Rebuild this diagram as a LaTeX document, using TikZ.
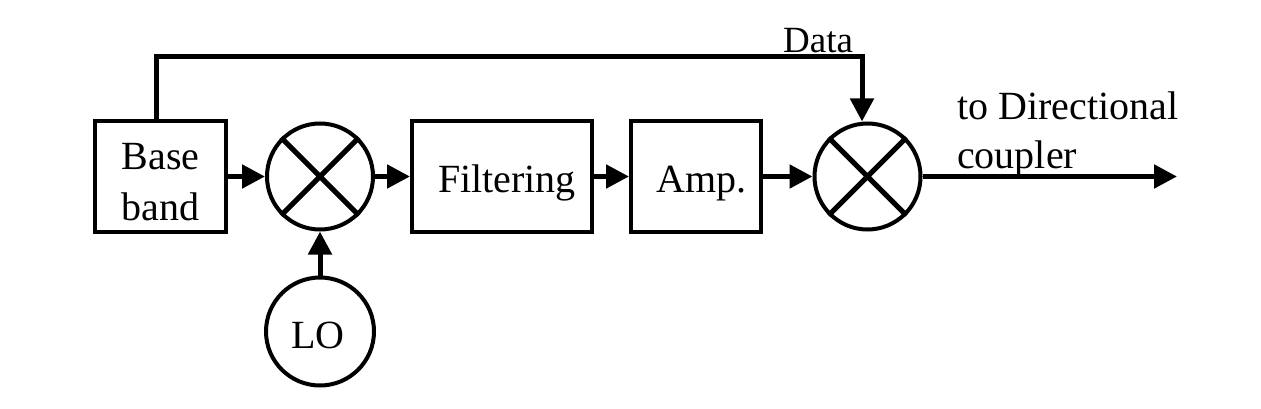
\documentclass[tikz,border=0pt]{standalone}
\usepackage{fontspec}
\setmainfont{Liberation Serif}
\usetikzlibrary{arrows.meta}
\begin{document}
\begin{tikzpicture}[x=1pt,y=-1pt,
  blk/.style={draw, line width=4pt, rectangle, minimum height=111pt, inner sep=0pt},
  mix/.style={draw, line width=4pt, circle, minimum size=106pt, inner sep=0pt},
  lbl/.style={font=\fontsize{40}{48}\selectfont, inner sep=0pt, anchor=base},
  sig/.style={line width=5pt, -{Triangle[length=23pt,width=23pt]}},
  crs/.style={line width=5pt}]
\useasboundingbox (0,0) rectangle (1261,409);
% blocks
\node[blk, minimum width=131pt] (bb) at (160.5,176.5) {};
\node[mix] (m1) at (320,176.5) {};
\node[blk, minimum width=180pt] (filt) at (502,176.5) {};
\node[blk, minimum width=130pt] (amp) at (696,176.5) {};
\node[mix] (m2) at (867.5,176.5) {};
\node[mix, minimum size=108pt] (lo) at (320,331.5) {};
% texts
\node[lbl] (tbase) at (160.5,170) {Base};
\node[lbl] (tband) at (160.5,220) {band};
\node[lbl] (tfilt) at (507,192) {Filtering};
\node[lbl] (tamp) at (701.5,193) {Amp.};
\node[lbl] (tlo) at (318,348) {LO};
\node[lbl, anchor=base west, font=\fontsize{37}{44}\selectfont] (tdata) at (783,53) {Data};
\node[lbl, anchor=base west] (tto) at (957,120) {to Directional};
\node[lbl, anchor=base west] (tcoup) at (957,168) {coupler};
% crosses
\draw[crs] (m1.north west) -- (m1.south east) (m1.north east) -- (m1.south west);
\draw[crs] (m2.north west) -- (m2.south east) (m2.north east) -- (m2.south west);
% connectors
\draw[sig] (bb) -- (m1);
\draw[sig] (m1) -- (filt);
\draw[sig] (filt) -- (amp);
\draw[sig] (amp) -- (m2);
\draw[sig] (lo) -- (m1);
\coordinate (out) at (1177,176.5);
\draw[sig] (m2.east) -- (out);
\coordinate (d0) at (156,57);
\coordinate (d1) at (862,57);
\draw[sig] (bb.north -| d0) -- (d0) -- (d1) -- (d1 |- m2.north);
\end{tikzpicture}
\end{document}
